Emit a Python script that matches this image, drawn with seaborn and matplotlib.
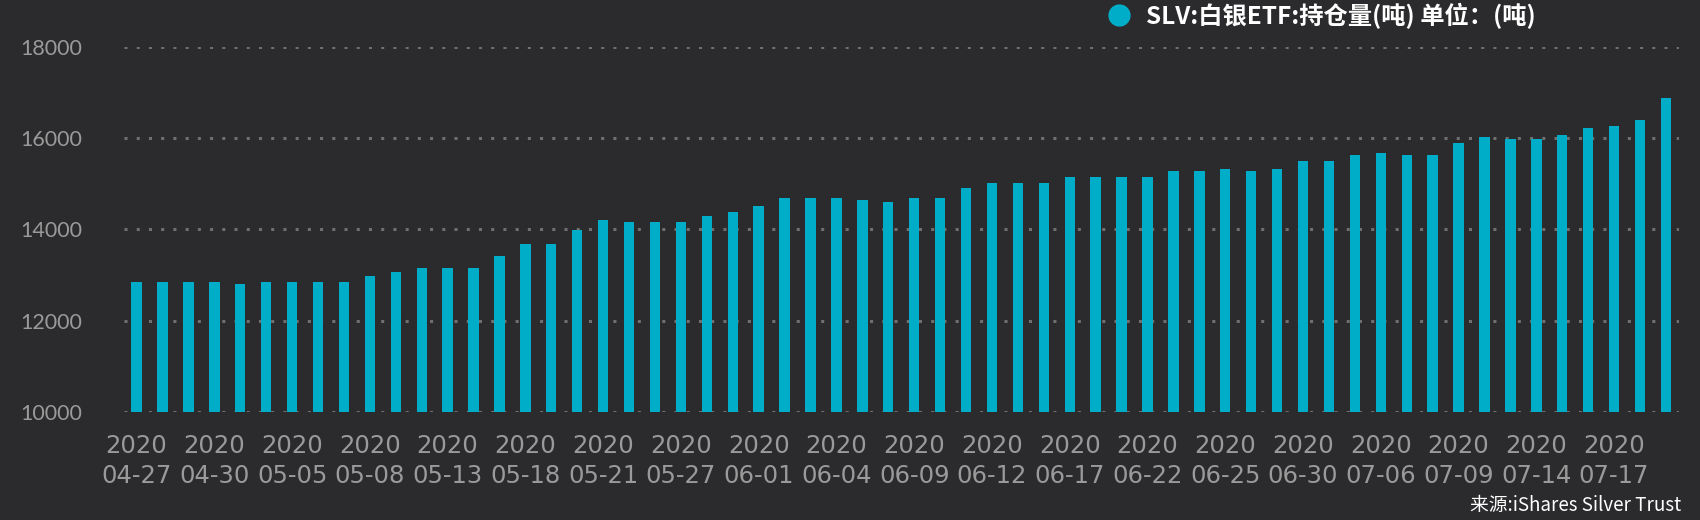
import matplotlib
matplotlib.use("Agg")
import matplotlib.pyplot as plt
from matplotlib.lines import Line2D
import seaborn as sns
import pandas as pd

dates = ["04-27", "04-28", "04-29", "04-30", "05-01", "05-04", "05-05", "05-06", "05-07", "05-08",
         "05-11", "05-12", "05-13", "05-14", "05-15", "05-18", "05-19", "05-20", "05-21", "05-22",
         "05-26", "05-27", "05-28", "05-29", "06-01", "06-02", "06-03", "06-04", "06-05", "06-08",
         "06-09", "06-10", "06-11", "06-12", "06-15", "06-16", "06-17", "06-18", "06-19", "06-22",
         "06-23", "06-24", "06-25", "06-26", "06-29", "06-30", "07-01", "07-02", "07-06", "07-07",
         "07-08", "07-09", "07-10", "07-13", "07-14", "07-15", "07-16", "07-17", "07-20", "07-21"]
holdings = [12850, 12850, 12850, 12850, 12810, 12850, 12850, 12850, 12850, 12985,
            13070, 13160, 13160, 13160, 13420, 13680, 13680, 13985, 14200, 14160,
            14160, 14160, 14290, 14375, 14510, 14695, 14695, 14695, 14650, 14605,
            14695, 14695, 14915, 15005, 15005, 15005, 15140, 15140, 15140, 15140,
            15275, 15275, 15318, 15275, 15318, 15496, 15496, 15630, 15674, 15630,
            15630, 15896, 16030, 15985, 15985, 16074, 16207, 16252, 16385, 16874]
year = "2020"
series_name = "SLV:白银ETF:持仓量(吨) 单位：(吨)"
source = "来源:iShares Silver Trust"
yticks = [10000, 12000, 14000, 16000, 18000]

BG = "#2b2b2d"
BAR = "#00adc8"
GRID = "#6f6f6f"
TXT = "#9a9a9a"

sns.set_theme(style="dark")
plt.rcParams["font.family"] = ["Lato", "Noto Sans CJK SC", "DejaVu Sans"]

df = pd.DataFrame({"date": dates, "value": holdings})

fig = plt.figure(figsize=(17, 5.2), dpi=100, facecolor=BG)
ax = fig.add_axes([0.0727, 0.2077, 0.9149, 0.7027])
ax.set_facecolor(BG)

sns.barplot(data=df, x="date", y="value", color=BAR, width=0.4,
            saturation=1, linewidth=0, ax=ax, zorder=3)

ax.set_ylim(10000, 18000)
ax.set_xlim(-0.5, len(dates) - 0.5)
ax.set_yticks(yticks)
ax.set_yticklabels([str(v) for v in yticks])
idx = list(range(0, len(dates), 3))
ax.set_xticks(idx)
ax.set_xticklabels([f"{year}\n{dates[i]}" for i in idx], linespacing=1.3,
                   family=["DejaVu Sans"], fontsize=17.5)

for v in yticks:
    ax.axhline(v, color=GRID, lw=2.2, ls=(0, (1, 3)), zorder=1)
ax.grid(False)
for s in ax.spines.values():
    s.set_visible(False)
ax.tick_params(axis="y", length=0, pad=30, labelsize=15.5, labelcolor=TXT)
ax.tick_params(axis="x", length=0, pad=16, labelcolor=TXT)
ax.set_xlabel("")
ax.set_ylabel("")

handle = Line2D([], [], marker="o", ls="", color=BAR, markersize=15)
leg = fig.legend([handle], [series_name], loc="center", bbox_to_anchor=(0.7765, 0.97),
                 frameon=False, handletextpad=0.5, borderpad=0, handlelength=1.2,
                 prop={"family": ["Noto Sans CJK SC", "DejaVu Sans"], "size": 17.5, "weight": "bold"})
for t in leg.get_texts():
    t.set_color("white")

fig.text(0.989, 0.028, source, ha="right", va="center", color="white", fontsize=13.5,
         family=["Noto Sans CJK SC", "DejaVu Sans"])

fig.savefig("out.png", dpi=100, facecolor=BG)
